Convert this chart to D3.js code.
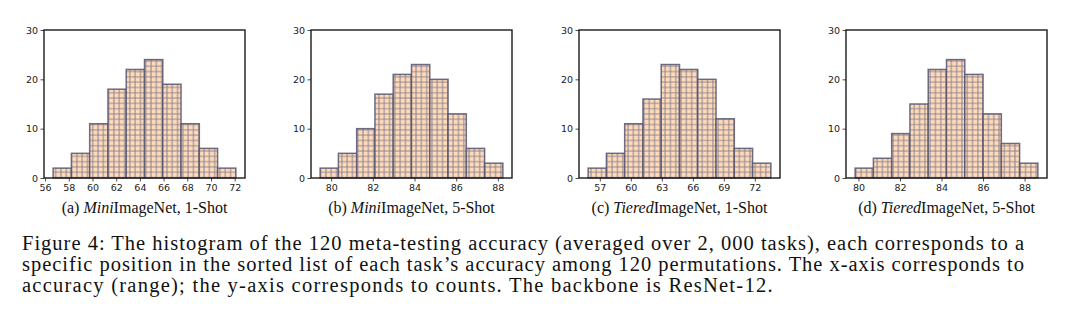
<!DOCTYPE html>
<html><head><meta charset="utf-8">
<script src="https://cdn.jsdelivr.net/npm/d3@7"></script>
<style>body{margin:0;background:#fff}svg{display:block}</style>
</head><body>
<svg id="c" width="1080" height="326"></svg>
<script>
// ---- data ----
const panelIds = ["a", "b", "c", "d"];
const captionPrefix = ["(a) ", "(b) ", "(c) ", "(d) "];
const captionItalic = ["Mini", "Mini", "Tiered", "Tiered"];
const captionRest = ["ImageNet, 1-Shot", "ImageNet, 5-Shot", "ImageNet, 1-Shot", "ImageNet, 5-Shot"];
const countsA = [2, 5, 11, 18, 22, 24, 19, 11, 6, 2];
const countsB = [2, 5, 10, 17, 21, 23, 20, 13, 6, 3];
const countsC = [2, 5, 11, 16, 23, 22, 20, 12, 6, 3];
const countsD = [2, 4, 9, 15, 22, 24, 21, 13, 7, 3];
const binRangeA = [56.68, 72.10];
const binRangeB = [79.47, 88.24];
const binRangeC = [55.87, 73.55];
const binRangeD = [79.84, 88.64];
const xTicksA = [56, 58, 60, 62, 64, 66, 68, 70, 72];
const xTicksB = [80, 82, 84, 86, 88];
const xTicksC = [57, 60, 63, 66, 69, 72];
const xTicksD = [80, 82, 84, 86, 88];
const yTicks = [0, 10, 20, 30];
const figCaption = [
  "Figure 4: The histogram of the 120 meta-testing accuracy (averaged over 2, 000 tasks), each corresponds to a",
  "specific position in the sorted list of each task\u2019s accuracy among 120 permutations. The x-axis corresponds to",
  "accuracy (range); the y-axis corresponds to counts. The backbone is ResNet-12."
];

const counts = [countsA, countsB, countsC, countsD];
const binRanges = [binRangeA, binRangeB, binRangeC, binRangeD];
const xTicks = [xTicksA, xTicksB, xTicksC, xTicksD];

// ---- layout ----
const axLeft = [44, 311, 579, 846];
const axW = 201;
const axTop = 30, axBottom = 178;

const svg = d3.select("#c");
const defs = svg.append("defs");
const hs = 5.3;
const pat = defs.append("pattern").attr("id", "hatch")
  .attr("patternUnits", "userSpaceOnUse").attr("width", hs).attr("height", hs);
pat.append("rect").attr("width", hs).attr("height", hs).attr("fill", "#ffdab9");
pat.append("path").attr("d", `M${hs/2},0V${hs}M0,${hs/2}H${hs}`)
  .attr("stroke", "#6e6e86").attr("stroke-width", 1.0).attr("stroke-opacity", 0.8);

const y = d3.scaleLinear().domain([0, 30]).range([axBottom, axTop]);

panelIds.forEach((id, i) => {
  const c = counts[i];
  const [lo, hi] = binRanges[i];
  const w = (hi - lo) / c.length;
  const bins = c.map((v, k) => ({x0: lo + k * w, x1: lo + (k + 1) * w, v}));
  const m = (hi - lo) * 0.05;
  const x = d3.scaleLinear().domain([lo - m, hi + m]).range([axLeft[i], axLeft[i] + axW]);
  const g = svg.append("g");

  g.selectAll("rect.bar").data(bins).join("rect").attr("class", "bar")
    .attr("x", d => x(d.x0)).attr("width", d => x(d.x1) - x(d.x0))
    .attr("y", d => y(d.v)).attr("height", d => y(0) - y(d.v))
    .attr("fill", "url(#hatch)")
    .attr("stroke", "#555570").attr("stroke-width", 1.5).attr("stroke-opacity", 0.85);

  const xa = g.append("g").attr("transform", `translate(0,${axBottom})`)
    .call(d3.axisBottom(x).tickValues(xTicks[i]).tickSize(3.5).tickPadding(2.5).tickFormat(d3.format("d")));
  const ya = g.append("g").attr("transform", `translate(${axLeft[i]},0)`)
    .call(d3.axisLeft(y).tickValues(yTicks).tickSize(3.5).tickPadding(2.5));
  [xa, ya].forEach(a => {
    a.select(".domain").remove();
    a.selectAll("text").attr("font-family", "DejaVu Sans").attr("font-size", 9.5).attr("fill", "#222");
    a.selectAll("line").attr("stroke", "#222").attr("stroke-width", 0.8);
  });

  g.append("rect").attr("x", axLeft[i]).attr("y", axTop).attr("width", axW).attr("height", axBottom - axTop)
    .attr("fill", "none").attr("stroke", "#1a1a1a").attr("stroke-width", 1.4);

  const t = g.append("text").attr("x", axLeft[i] + axW / 2).attr("y", 213)
    .attr("text-anchor", "middle").attr("font-family", "Liberation Serif").attr("font-size", 16).attr("fill", "#111");
  t.append("tspan").text(captionPrefix[i]);
  t.append("tspan").attr("font-style", "italic").text(captionItalic[i]);
  t.append("tspan").text(captionRest[i]);
});

const capX = 22, capRight = 1024;
figCaption.forEach((line, k) => {
  const t = svg.append("text").attr("x", capX).attr("y", 250 + k * 21)
    .attr("font-family", "Liberation Serif").attr("font-size", 20.5).attr("letter-spacing", 1.25)
    .attr("fill", "#111").text(line);
  if (k < figCaption.length - 1) {
    t.attr("letter-spacing", null)
      .attr("textLength", capRight - capX).attr("lengthAdjust", "spacing");
  }
});
</script>
</body></html>
